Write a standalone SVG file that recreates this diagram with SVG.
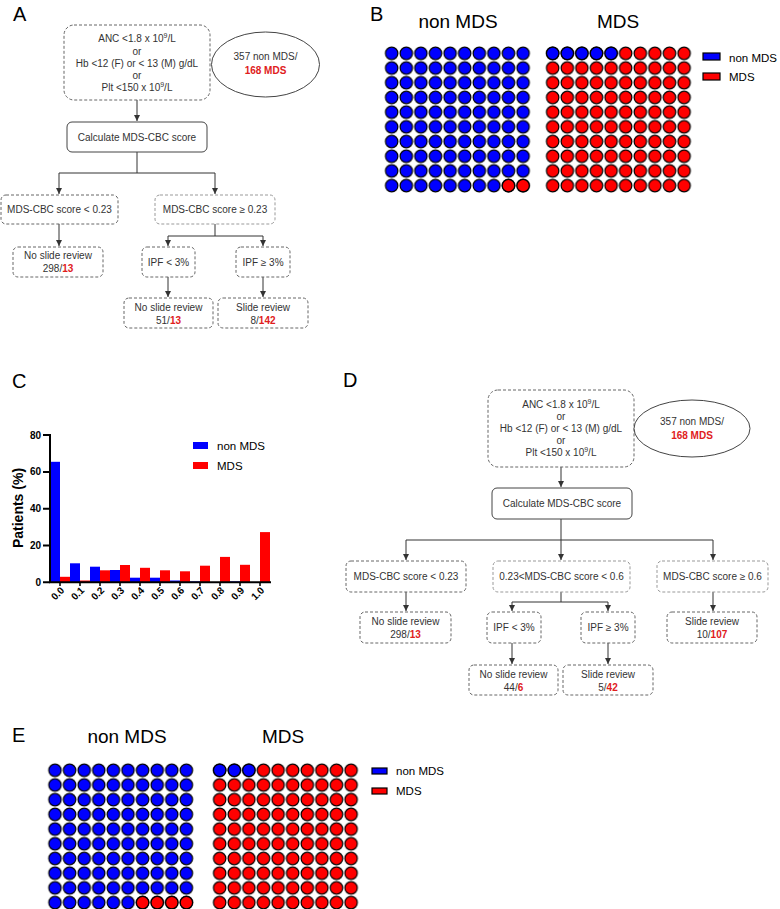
<svg xmlns="http://www.w3.org/2000/svg" width="780" height="909" viewBox="0 0 780 909">
<style>
.t{font-family:"Liberation Sans",Arial,sans-serif;font-size:10px;fill:#333;text-anchor:middle}
.red{fill:#e0201c;font-weight:bold}
.lbl{font-family:"Liberation Sans",Arial,sans-serif;font-size:20px;fill:#000}
.ttl{font-family:"Liberation Sans",Arial,sans-serif;font-size:19px;fill:#000;text-anchor:middle}
.lg{font-family:"Liberation Sans",Arial,sans-serif;font-size:11.5px;fill:#000}
.dbox{fill:#fff;stroke:#666;stroke-width:1;stroke-dasharray:3 2}
.lbox{fill:#fff;stroke:#999;stroke-width:1;stroke-dasharray:3 2}
.sbox{fill:#fff;stroke:#444;stroke-width:1}
.ell{fill:#fff;stroke:#444;stroke-width:1}
.c{fill:none;stroke:#333;stroke-width:1}
.ca{fill:none;stroke:#333;stroke-width:1;marker-end:url(#ah)}
.ax{fill:none;stroke:#000;stroke-width:2}
.tk{font-family:"Liberation Sans",Arial,sans-serif;font-size:10px;font-weight:bold;fill:#000}
.bb{fill:#0000ff}
.rb{fill:#ff0000}
.cb{fill:#0000ff;stroke:#000;stroke-width:1.2}
.cr{fill:#ff0000;stroke:#000;stroke-width:1.2}
</style>
<defs>
<marker id="ah" markerWidth="6" markerHeight="6" refX="6" refY="3" orient="auto" markerUnits="userSpaceOnUse"><path d="M0,0 L6,3 L0,6 z" fill="#333"/></marker>
<pattern id="wb" width="14.6" height="14.7" patternUnits="userSpaceOnUse"><circle cx="7.3" cy="7.35" r="6.2" class="cb"/></pattern>
<pattern id="wr" width="14.6" height="14.7" patternUnits="userSpaceOnUse"><circle cx="7.3" cy="7.35" r="6.2" class="cr"/></pattern>
</defs>
<rect width="780" height="909" fill="#fff"/>

<!-- Panel letters -->
<text class="lbl" x="13" y="21">A</text>
<text class="lbl" x="370" y="21">B</text>
<text class="lbl" x="12" y="388">C</text>
<text class="lbl" x="343" y="387">D</text>
<text class="lbl" x="12" y="742">E</text>

<!-- Panel A connectors -->
<g id="connectorsA">
<path class="ca" d="M137,100 V121"/>
<path class="c" d="M137,152 V173 M59,173 H215"/>
<path class="ca" d="M59,173 V194"/>
<path class="ca" d="M215,173 V194"/>
<path class="ca" d="M59,224 V246"/>
<path class="c" d="M215,224 V236 M168,236 H263"/>
<path class="ca" d="M168,236 V246"/>
<path class="ca" d="M263,236 V246"/>
<path class="ca" d="M168,277 V297"/>
<path class="ca" d="M263,277 V297"/>
</g>

<!-- Panel A nodes -->
<g id="a_criteria">
<rect class="dbox" x="64" y="25" width="146" height="75" rx="10"/>
<text class="t" x="137" y="42">ANC &lt;1.8 x 10<tspan font-size="7" dy="-4">9</tspan><tspan dy="4">/L</tspan></text>
<text class="t" x="137" y="54.5">or</text>
<text class="t" x="137" y="67">Hb &lt;12 (F) or &lt; 13 (M) g/dL</text>
<text class="t" x="137" y="79">or</text>
<text class="t" x="137" y="91">Plt &lt;150 x 10<tspan font-size="7" dy="-4">9</tspan><tspan dy="4">/L</tspan></text>
</g>
<g id="a_cohort">
<ellipse class="ell" cx="265.5" cy="64.5" rx="54" ry="32.5"/>
<text class="t" x="265.5" y="60">357 non MDS/</text>
<text class="t red" x="265.5" y="74">168 MDS</text>
</g>
<g id="a_calc">
<rect class="sbox" x="67" y="122" width="140" height="30" rx="5"/>
<text class="t" x="137" y="141">Calculate MDS-CBC score</text>
</g>
<g id="a_low">
<rect class="dbox" x="1" y="195" width="117" height="29" rx="5"/>
<text class="t" x="59.5" y="213">MDS-CBC score &lt; 0.23</text>
</g>
<g id="a_high">
<rect class="lbox" x="155" y="195" width="120" height="29" rx="5"/>
<text class="t" x="215" y="213">MDS-CBC score ≥ 0.23</text>
</g>
<g id="a_noreview1">
<rect class="dbox" x="13" y="247" width="90" height="30" rx="5"/>
<text class="t" x="58" y="259">No slide review</text>
<text class="t" x="58" y="272">298/<tspan class="red">13</tspan></text>
</g>
<g id="a_ipflow">
<rect class="dbox" x="142" y="247" width="53" height="30" rx="5"/>
<text class="t" x="168.5" y="265.5">IPF &lt; 3%</text>
</g>
<g id="a_ipfhigh">
<rect class="dbox" x="236" y="247" width="54" height="30" rx="5"/>
<text class="t" x="263" y="265.5">IPF ≥ 3%</text>
</g>
<g id="a_noreview2">
<rect class="dbox" x="124" y="298" width="89" height="30" rx="5"/>
<text class="t" x="168.5" y="311">No slide review</text>
<text class="t" x="168.5" y="324">51/<tspan class="red">13</tspan></text>
</g>
<g id="a_review">
<rect class="dbox" x="218" y="298" width="90" height="30" rx="5"/>
<text class="t" x="263" y="311">Slide review</text>
<text class="t" x="263" y="324">8/<tspan class="red">142</tspan></text>
</g>

<!-- Panel B waffle -->
<g id="b_waffle">
<text class="ttl" x="458" y="28">non MDS</text>
<text class="ttl" x="618" y="28">MDS</text>
<g transform="translate(384.4,46)">
<rect width="146" height="147" fill="url(#wb)"/>
<circle class="cr" cx="124.1" cy="139.65" r="6.2"/>
<circle class="cr" cx="138.7" cy="139.65" r="6.2"/>
</g>
<g transform="translate(545.4,46)">
<rect width="146" height="147" fill="url(#wr)"/>
<circle class="cb" cx="7.3" cy="7.35" r="6.2"/>
<circle class="cb" cx="21.9" cy="7.35" r="6.2"/>
<circle class="cb" cx="36.5" cy="7.35" r="6.2"/>
<circle class="cb" cx="51.1" cy="7.35" r="6.2"/>
<circle class="cb" cx="65.7" cy="7.35" r="6.2"/>
</g>
<rect x="703" y="53" width="17" height="7" class="cb" stroke-width="1"/>
<text class="lg" x="729" y="62">non MDS</text>
<rect x="703" y="73" width="17" height="7" class="cr" stroke-width="1"/>
<text class="lg" x="729" y="81">MDS</text>
</g>

<!-- Panel C chart -->
<g id="c_chart">
<g>
<rect class="bb" x="50" y="461.8" width="10" height="120.5"/>
<rect class="rb" x="60" y="576.8" width="10" height="5.5"/>
<rect class="bb" x="70" y="563.3" width="10" height="19"/>
<rect class="rb" x="80" y="580.5" width="10" height="1.8"/>
<rect class="bb" x="90" y="566.7" width="10" height="15.6"/>
<rect class="rb" x="100" y="570.3" width="10" height="12"/>
<rect class="bb" x="110" y="570" width="10" height="12.3"/>
<rect class="rb" x="120" y="565" width="10" height="17.3"/>
<rect class="bb" x="130" y="577.7" width="10" height="4.6"/>
<rect class="rb" x="140" y="567.8" width="10" height="14.5"/>
<rect class="bb" x="150" y="577.7" width="10" height="4.6"/>
<rect class="rb" x="160" y="570.3" width="10" height="12"/>
<rect class="bb" x="170" y="580.5" width="10" height="1.8"/>
<rect class="rb" x="180" y="571.3" width="10" height="11"/>
<rect class="bb" x="190" y="581.4" width="10" height="0.9"/>
<rect class="rb" x="200" y="565.7" width="10" height="16.6"/>
<rect class="rb" x="220" y="556.9" width="10" height="25.4"/>
<rect class="bb" x="230" y="581.4" width="10" height="0.9"/>
<rect class="rb" x="240" y="564.8" width="10" height="17.5"/>
<rect class="rb" x="260" y="532.1" width="10" height="50.2"/>
</g>
<path class="ax" d="M50,434 V582.3 H271"/>
<path class="ax" d="M43,435 H50 M43,471.9 H50 M43,508.7 H50 M43,545.5 H50 M43,582.3 H50"/>
<path fill="none" stroke="#000" stroke-width="1.5" d="M60,582 V586 M80,582 V586 M100,582 V586 M120,582 V586 M140,582 V586 M160,582 V586 M180,582 V586 M200,582 V586 M220,582 V586 M240,582 V586 M260,582 V586"/>
<g class="tk" text-anchor="end">
<text x="41" y="438.5">80</text>
<text x="41" y="475.4">60</text>
<text x="41" y="512.2">40</text>
<text x="41" y="549">20</text>
<text x="41" y="585.8">0</text>
</g>
<g class="tk" text-anchor="end">
<text transform="translate(65,591) rotate(-45)">0.0</text>
<text transform="translate(85,591) rotate(-45)">0.1</text>
<text transform="translate(105,591) rotate(-45)">0.2</text>
<text transform="translate(125,591) rotate(-45)">0.3</text>
<text transform="translate(145,591) rotate(-45)">0.4</text>
<text transform="translate(165,591) rotate(-45)">0.5</text>
<text transform="translate(185,591) rotate(-45)">0.6</text>
<text transform="translate(205,591) rotate(-45)">0.7</text>
<text transform="translate(225,591) rotate(-45)">0.8</text>
<text transform="translate(245,591) rotate(-45)">0.9</text>
<text transform="translate(265,591) rotate(-45)">1.0</text>
</g>
<text transform="translate(23,508) rotate(-90)" text-anchor="middle" font-family="Liberation Sans, Arial, sans-serif" font-size="14" font-weight="bold">Patients (%)</text>
<rect class="bb" x="193" y="442" width="15" height="7"/>
<text class="lg" x="217" y="449.5" font-size="12">non MDS</text>
<rect class="rb" x="193" y="462" width="15" height="7"/>
<text class="lg" x="217" y="469.5" font-size="12">MDS</text>
</g>

<!-- Panel D connectors -->
<g id="connectorsD">
<path class="ca" d="M561,467 V487"/>
<path class="c" d="M561,519 V540 M406,540 H713"/>
<path class="ca" d="M406,540 V560"/>
<path class="ca" d="M561,540 V560"/>
<path class="ca" d="M713,540 V560"/>
<path class="ca" d="M406,592 V611"/>
<path class="c" d="M561,592 V602 M512,602 H608"/>
<path class="ca" d="M512,602 V611"/>
<path class="ca" d="M608,602 V611"/>
<path class="ca" d="M512,643 V664"/>
<path class="ca" d="M608,643 V664"/>
<path class="ca" d="M713,592 V611"/>
</g>

<!-- Panel D nodes -->
<g id="d_criteria">
<rect class="dbox" x="488" y="390" width="146" height="77" rx="10"/>
<text class="t" x="561" y="408">ANC &lt;1.8 x 10<tspan font-size="7" dy="-4">9</tspan><tspan dy="4">/L</tspan></text>
<text class="t" x="561" y="420">or</text>
<text class="t" x="561" y="432">Hb &lt;12 (F) or &lt; 13 (M) g/dL</text>
<text class="t" x="561" y="444">or</text>
<text class="t" x="561" y="456">Plt &lt;150 x 10<tspan font-size="7" dy="-4">9</tspan><tspan dy="4">/L</tspan></text>
</g>
<g id="d_cohort">
<ellipse class="ell" cx="692" cy="428.5" rx="58" ry="28.5"/>
<text class="t" x="692" y="425">357 non MDS/</text>
<text class="t red" x="692" y="439">168 MDS</text>
</g>
<g id="d_calc">
<rect class="sbox" x="492" y="488" width="140" height="31" rx="5"/>
<text class="t" x="562" y="507">Calculate MDS-CBC score</text>
</g>
<g id="d_low">
<rect class="dbox" x="346" y="561" width="120" height="31" rx="5"/>
<text class="t" x="406" y="579.5">MDS-CBC score &lt; 0.23</text>
</g>
<g id="d_mid">
<rect class="lbox" x="493" y="561" width="137" height="31" rx="5"/>
<text class="t" x="561.5" y="579.5">0.23&lt;MDS-CBC score &lt; 0.6</text>
</g>
<g id="d_high">
<rect class="lbox" x="657" y="561" width="111" height="31" rx="5"/>
<text class="t" x="712.5" y="579.5">MDS-CBC score ≥ 0.6</text>
</g>
<g id="d_noreview1">
<rect class="dbox" x="360" y="612" width="91" height="31" rx="5"/>
<text class="t" x="405.5" y="625">No slide review</text>
<text class="t" x="405.5" y="638">298/<tspan class="red">13</tspan></text>
</g>
<g id="d_ipflow">
<rect class="dbox" x="487" y="612" width="54" height="31" rx="5"/>
<text class="t" x="514" y="631">IPF &lt; 3%</text>
</g>
<g id="d_ipfhigh">
<rect class="dbox" x="581" y="612" width="54" height="31" rx="5"/>
<text class="t" x="608" y="631">IPF ≥ 3%</text>
</g>
<g id="d_review_high">
<rect class="dbox" x="667" y="612" width="90" height="31" rx="5"/>
<text class="t" x="712" y="625">Slide review</text>
<text class="t" x="712" y="638">10/<tspan class="red">107</tspan></text>
</g>
<g id="d_noreview2">
<rect class="dbox" x="469" y="665" width="89" height="30" rx="5"/>
<text class="t" x="513.5" y="678">No slide review</text>
<text class="t" x="513.5" y="691">44/<tspan class="red">6</tspan></text>
</g>
<g id="d_review">
<rect class="dbox" x="563" y="665" width="90" height="30" rx="5"/>
<text class="t" x="608" y="678">Slide review</text>
<text class="t" x="608" y="691">5/<tspan class="red">42</tspan></text>
</g>

<!-- Panel E waffle -->
<g id="e_waffle">
<text class="ttl" x="127" y="743">non MDS</text>
<text class="ttl" x="283" y="743">MDS</text>
<g transform="translate(47.7,762.95)">
<rect width="146" height="147" fill="url(#wb)"/>
<circle class="cr" cx="94.9" cy="139.65" r="6.2"/>
<circle class="cr" cx="109.5" cy="139.65" r="6.2"/>
<circle class="cr" cx="124.1" cy="139.65" r="6.2"/>
<circle class="cr" cx="138.7" cy="139.65" r="6.2"/>
</g>
<g transform="translate(212.4,762.95)">
<rect width="146" height="147" fill="url(#wr)"/>
<circle class="cb" cx="7.3" cy="7.35" r="6.2"/>
<circle class="cb" cx="21.9" cy="7.35" r="6.2"/>
<circle class="cb" cx="36.5" cy="7.35" r="6.2"/>
</g>
<rect x="372" y="768" width="15" height="6" class="cb" stroke-width="1"/>
<text class="lg" x="396" y="775">non MDS</text>
<rect x="372" y="788" width="15" height="6" class="cr" stroke-width="1"/>
<text class="lg" x="396" y="795">MDS</text>
</g>
</svg>
